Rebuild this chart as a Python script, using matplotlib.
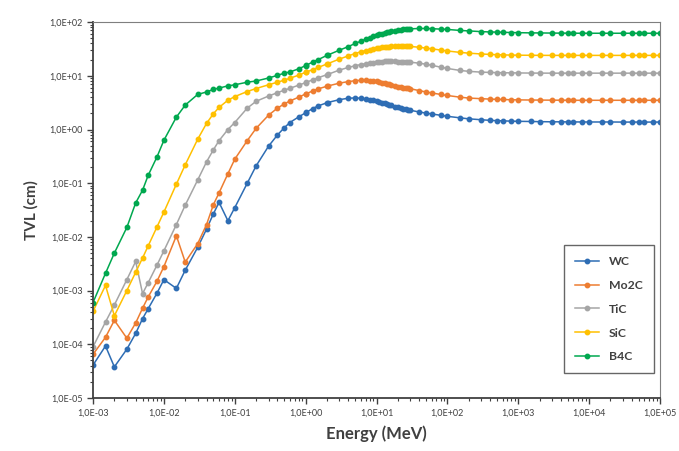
import numpy as np
import matplotlib.pyplot as plt
from matplotlib.ticker import FuncFormatter, FixedLocator, NullFormatter

plt.rcParams['font.family'] = ['Lato', 'DejaVu Sans']

# Energía (MeV)
energy = [1e-3, 1.5e-3, 2e-3, 3e-3, 4e-3, 5e-3, 6e-3, 8e-3, 1e-2, 1.5e-2, 2e-2, 3e-2, 4e-2, 5e-2, 6e-2, 8e-2,
          0.1, 0.15, 0.2, 0.3, 0.4, 0.5, 0.6, 0.8, 1, 1.022, 1.25, 1.5, 2, 2.044,
          3, 4, 5, 6, 7, 8, 9, 10, 11, 12, 13, 14, 15, 16, 18, 20, 22, 24, 26, 28, 30,
          40, 50, 60, 80, 100, 150, 200, 300, 400, 500, 600, 800, 1000,
          1500, 2000, 3000, 4000, 5000, 6000, 8000, 10000,
          15000, 20000, 30000, 40000, 50000, 60000, 80000, 100000]

wc = [4.1e-5, 9.3e-5, 3.8e-5, 8.1e-5, 1.6e-4, 3.0e-4, 4.6e-4, 9.0e-4, 1.6e-3, 1.1e-3, 2.4e-3, 6.4e-3, 1.4e-2, 2.7e-2, 4.4e-2, 2.0e-2,
      3.5e-2, 0.10, 0.21, 0.49, 0.79, 1.08, 1.35, 1.72, 2.05, 2.08, 2.45, 2.75, 3.15, 3.18,
      3.6, 3.82, 3.87, 3.82, 3.72, 3.6, 3.48, 3.36, 3.25, 3.15, 3.05, 2.96, 2.88, 2.8, 2.68, 2.57, 2.5, 2.44, 2.38, 2.33, 2.28,
      2.12, 2.02, 1.95, 1.84, 1.76, 1.65, 1.58, 1.52, 1.48, 1.46, 1.45, 1.43, 1.42,
      1.41, 1.40, 1.39, 1.39, 1.385, 1.385, 1.38, 1.38,
      1.38, 1.38, 1.375, 1.375, 1.375, 1.375, 1.375, 1.375]

mo2c = [6.5e-5, 1.35e-4, 2.8e-4, 1.3e-4, 2.5e-4, 4.7e-4, 7.6e-4, 1.5e-3, 2.8e-3, 1.05e-2, 3.4e-3, 7.5e-3, 1.7e-2, 4.0e-2, 6.6e-2, 0.15,
        0.28, 0.62, 1.05, 1.85, 2.5, 3.0, 3.4, 4.0, 4.6, 4.65, 5.2, 5.7, 6.4, 6.45,
        7.3, 7.8, 8.1, 8.25, 8.25, 8.15, 8.0, 7.85, 7.65, 7.45, 7.25, 7.05, 6.9, 6.75, 6.5, 6.3, 6.15, 6.05, 5.95, 5.85, 5.75,
        5.3, 5.0, 4.8, 4.5, 4.3, 4.0, 3.85, 3.75, 3.68, 3.64, 3.62, 3.58, 3.56,
        3.54, 3.53, 3.52, 3.51, 3.51, 3.5, 3.5, 3.5,
        3.5, 3.5, 3.5, 3.5, 3.5, 3.5, 3.5, 3.5]

tic = [9.0e-5, 2.6e-4, 5.4e-4, 1.6e-3, 3.5e-3, 8.8e-4, 1.4e-3, 3.0e-3, 5.5e-3, 1.7e-2, 3.9e-2, 0.115, 0.25, 0.42, 0.62, 1.0,
       1.35, 2.5, 3.35, 4.2, 4.85, 5.4, 5.85, 6.7, 7.45, 7.55, 8.4, 9.2, 10.5, 10.6,
       12.8, 14.3, 15.4, 16.2, 16.8, 17.2, 17.6, 18.0, 18.2, 18.4, 18.5, 18.6, 18.6, 18.6, 18.5, 18.4, 18.3, 18.2, 18.1, 18.0, 17.9,
       17.2, 16.4, 15.7, 14.5, 13.7, 12.6, 12.1, 11.7, 11.55, 11.45, 11.4, 11.35, 11.3,
       11.25, 11.22, 11.2, 11.2, 11.2, 11.2, 11.2, 11.2,
       11.2, 11.2, 11.2, 11.2, 11.2, 11.2, 11.2, 11.2]

sic = [4.1e-4, 1.25e-3, 3.4e-4, 1.0e-3, 2.2e-3, 4.05e-3, 6.8e-3, 1.54e-2, 2.9e-2, 9.6e-2, 0.22, 0.66, 1.3, 1.97, 2.58, 3.51,
       4.1, 5.1, 5.8, 6.8, 7.6, 8.3, 9.0, 10.3, 11.6, 11.7, 13.0, 14.3, 16.6, 16.8,
       20.5, 23.5, 26.0, 28.0, 29.5, 30.8, 31.8, 32.6, 33.3, 33.9, 34.4, 34.8, 35.1, 35.4, 35.7, 35.8, 35.8, 35.7, 35.6, 35.4, 35.2,
       34.0, 32.8, 31.8, 30.2, 29.0, 27.3, 26.4, 25.5, 25.0, 24.7, 24.5, 24.3, 24.2,
       24.1, 24.05, 24.0, 24.0, 24.0, 24.0, 24.0, 24.0,
       24.0, 24.0, 24.0, 24.0, 24.0, 24.0, 24.0, 24.0]

b4c = [6.0e-4, 2.1e-3, 5.0e-3, 1.5e-2, 4.3e-2, 7.4e-2, 0.14, 0.31, 0.63, 1.7, 2.85, 4.5, 5.0, 5.6, 5.9, 6.5,
       6.8, 7.6, 8.0, 9.1, 10.2, 11.2, 11.8, 13.5, 15.5, 15.7, 18.0, 20.0, 24.0, 24.3,
       30.0, 35.0, 40.0, 44.0, 48.0, 51.0, 54.0, 57.0, 59.0, 61.0, 63.0, 64.5, 66.0, 67.0, 69.0, 71.0, 72.0, 73.0, 74.0, 74.5, 75.0,
       76.0, 76.0, 75.5, 74.0, 73.0, 70.0, 68.5, 66.5, 65.5, 65.0, 64.5, 64.0, 63.5,
       63.0, 62.8, 62.5, 62.3, 62.2, 62.1, 62.0, 62.0,
       62.0, 62.0, 62.0, 62.0, 62.0, 62.0, 62.0, 62.0]

x_ticks = [1e-3, 1e-2, 1e-1, 1e0, 1e1, 1e2, 1e3, 1e4, 1e5]
y_ticks = [1e-5, 1e-4, 1e-3, 1e-2, 1e-1, 1e0, 1e1, 1e2]

series = [("WC", wc, "#2E6DB4"), ("Mo2C", mo2c, "#ED7D31"), ("TiC", tic, "#A5A5A5"),
          ("SiC", sic, "#FFC000"), ("B4C", b4c, "#00A84F")]

fig = plt.figure(figsize=(6.79, 4.51), dpi=100)
ax = fig.add_axes([0.137, 0.1175, 0.835, 0.8335])

for name, vals, cor in series:
    ax.plot(energy, vals, '-o', color=cor, label=name, linewidth=1.1, markersize=3.2)

ax.set_xscale('log')
ax.set_yscale('log')
ax.set_xlim(1e-3, 1e5)
ax.set_ylim(1e-5, 1e2)


def fmt(v, pos):
    e = int(np.round(np.log10(v)))
    return "1,0E%+03d" % e


def minors(ticks):
    return [t * k for t in ticks[:-1] for k in range(2, 10)]


ax.xaxis.set_major_locator(FixedLocator(x_ticks))
ax.yaxis.set_major_locator(FixedLocator(y_ticks))
ax.xaxis.set_major_formatter(FuncFormatter(fmt))
ax.yaxis.set_major_formatter(FuncFormatter(fmt))
ax.xaxis.set_minor_locator(FixedLocator(minors(x_ticks)))
ax.yaxis.set_minor_locator(FixedLocator(minors(y_ticks)))
ax.xaxis.set_minor_formatter(NullFormatter())
ax.yaxis.set_minor_formatter(NullFormatter())
ax.tick_params(which='major', labelsize=6.5, labelcolor='#404040', length=4, width=1, color='#404040')
ax.tick_params(which='minor', length=2.5, width=0.8, color='#404040')

for s in ['top', 'right']:
    ax.spines[s].set_color('#7f7f7f')
for s in ['left', 'bottom']:
    ax.spines[s].set_color('#404040')
    ax.spines[s].set_linewidth(1.3)

ax.set_xlabel("Energy (MeV)", fontsize=12, fontweight='bold', color='#404040', labelpad=6)
ax.set_ylabel("TVL (cm)", fontsize=11, fontweight='bold', color='#404040', labelpad=8)

leg = ax.legend(loc='upper right', bbox_to_anchor=(1.0, 0.423), frameon=True, fancybox=False,
                edgecolor='#404040', handlelength=2.0, borderpad=0.9, labelspacing=1.05,
                prop={'weight': 'bold', 'size': 8.8})
leg.get_frame().set_linewidth(1.0)
for t in leg.get_texts():
    t.set_color('#404040')

fig.savefig("out.png", dpi=100)
